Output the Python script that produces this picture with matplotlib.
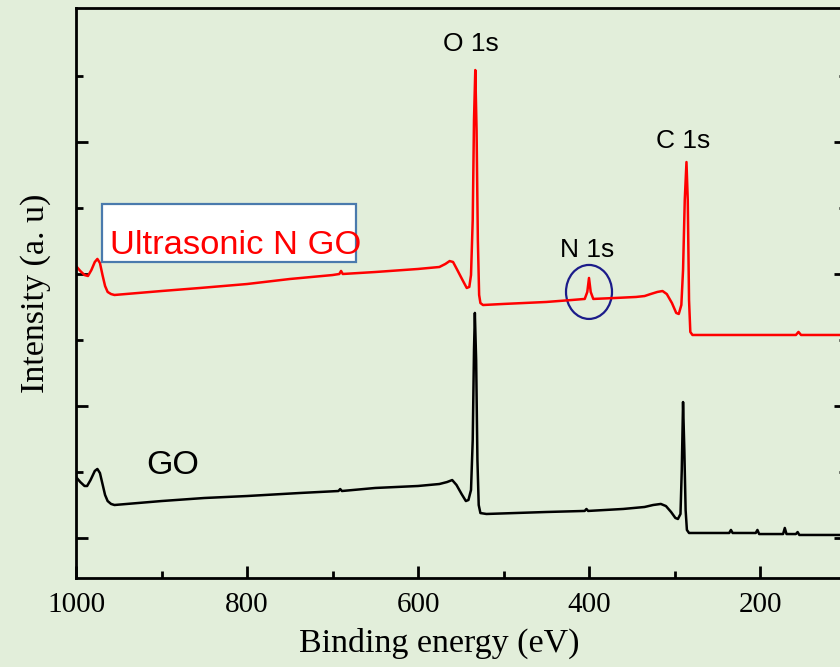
import matplotlib
matplotlib.use("Agg")
import matplotlib.pyplot as plt
from matplotlib.patches import Ellipse, Rectangle
from matplotlib.ticker import FixedLocator

# ---- data (binding energy in eV, intensity in a.u.) ----
red_energy = [1000, 995, 990, 986, 982, 978, 975, 972, 969, 966, 963, 959, 955,
              900, 855, 800, 750, 700, 692, 690, 688, 650, 600, 575, 568, 563, 559,
              554, 548, 543, 540, 538, 536, 534.5, 533, 531.5, 530, 528.5, 527, 524,
              500, 450, 420, 405, 402, 400, 398, 395, 370, 345, 335, 328, 320, 314,
              309, 303, 298, 295, 292, 290, 288, 286, 284.5, 283, 281.5, 279, 250,
              200, 158, 155, 152, 100]
red_intensity = [2.061, 2.023, 1.992, 1.985, 2.030, 2.091, 2.114, 2.083, 1.992, 1.909,
                 1.864, 1.848, 1.841, 1.871, 1.894, 1.924, 1.962, 1.992, 2.000, 2.023,
                 2.000, 2.015, 2.038, 2.053, 2.076, 2.098, 2.091, 2.030, 1.955, 1.894,
                 1.902, 1.992, 2.409, 3.167, 3.545, 3.091, 2.258, 1.841, 1.780, 1.765,
                 1.773, 1.788, 1.803, 1.811, 1.864, 1.970, 1.864, 1.811, 1.818, 1.826,
                 1.833, 1.848, 1.864, 1.871, 1.848, 1.780, 1.705, 1.697, 1.765, 2.030,
                 2.561, 2.848, 2.561, 1.803, 1.561, 1.538, 1.538, 1.538, 1.538, 1.561,
                 1.538, 1.538]

go_energy = [1000, 995, 990, 987, 983, 978, 975, 972, 969, 966, 963, 959, 955,
             900, 850, 800, 738, 693, 691, 689, 650, 600, 575, 566, 560, 555, 549,
             544, 541, 538, 536, 534.5, 533.5, 532, 530.5, 529, 527, 520, 450, 405,
             403, 401, 360, 335, 325, 316, 310, 304, 299, 296, 293, 291.5, 290,
             288.5, 287, 285.5, 283, 260, 236, 234, 232, 205, 203, 201, 173, 171,
             169, 158, 156, 154, 100]
go_intensity = [0.462, 0.424, 0.394, 0.394, 0.439, 0.508, 0.523, 0.492, 0.409, 0.326,
                0.280, 0.258, 0.250, 0.280, 0.303, 0.318, 0.341, 0.356, 0.371, 0.356,
                0.379, 0.394, 0.409, 0.424, 0.439, 0.402, 0.333, 0.280, 0.288, 0.364,
                0.742, 1.424, 1.705, 1.348, 0.591, 0.250, 0.189, 0.182, 0.197, 0.205,
                0.220, 0.205, 0.220, 0.235, 0.250, 0.258, 0.242, 0.197, 0.152, 0.144,
                0.182, 0.515, 1.030, 0.667, 0.212, 0.061, 0.038, 0.038, 0.038, 0.061,
                0.038, 0.038, 0.061, 0.030, 0.030, 0.076, 0.030, 0.030, 0.045, 0.023,
                0.023]

x_major = [1000, 800, 600, 400, 200]
x_minor = [900, 700, 500, 300, 100]
x_tick_labels = ["1000", "800", "600", "400", "200"]
y_major = [0, 1, 2, 3]
y_minor = [0.5, 1.5, 2.5, 3.5]

peak_labels = ["O 1s", "C 1s", "N 1s"]
peak_label_x = [538, 290, 402]
peak_label_y = [3.689, 2.955, 2.129]

bg = "#e2eeda"
serif = ["Liberation Serif", "DejaVu Serif"]
sans = ["Liberation Sans", "DejaVu Sans"]

fig = plt.figure(figsize=(8.4, 6.67), dpi=100, facecolor=bg)
ax = fig.add_axes([76 / 840, 89 / 667, 769.5 / 840, 570 / 667], facecolor=bg)

ax.plot(red_energy, red_intensity, color="#ff0000", lw=1.8, solid_joinstyle="round")
ax.plot(go_energy, go_intensity, color="black", lw=1.8, solid_joinstyle="round")

ax.set_xlim(1000, 100)
ax.set_ylim(-0.303, 4.015)

ax.xaxis.set_major_locator(FixedLocator(x_major))
ax.xaxis.set_minor_locator(FixedLocator(x_minor))
ax.set_xticklabels(x_tick_labels, fontfamily=serif, fontsize=21)
ax.yaxis.set_major_locator(FixedLocator(y_major))
ax.yaxis.set_minor_locator(FixedLocator(y_minor))

ax.tick_params(which="both", direction="in", width=2, top=False, right=True,
               labelleft=False, pad=10)
ax.tick_params(which="major", length=8.6)
ax.tick_params(which="minor", length=5)
for s in ax.spines.values():
    s.set_linewidth(2)

ax.set_xlabel("Binding energy (eV)", fontfamily=serif, fontsize=24.5)
ax.xaxis.set_label_coords((439 - 76) / 769.5, -0.088, transform=ax.transAxes)
ax.xaxis.label.set_va("top")
ax.set_ylabel("Intensity (a. u)", fontfamily=serif, fontsize=24.5, labelpad=18)

for t, x, y in zip(peak_labels, peak_label_x, peak_label_y):
    ax.text(x, y, t, fontfamily=sans, fontsize=19, ha="center", va="baseline")

ax.add_patch(Ellipse((400, 1.864), 53.8, 0.409, fill=False, edgecolor="#1c1c8a", lw=1.6))
ax.add_patch(Rectangle((969.6, 2.091), 672.5 - 969.6, 2.530 - 2.091, facecolor="white",
                       edgecolor="#4a7aad", lw=1.6, zorder=3))
ax.text(960, 2.152, "Ultrasonic N GO", color="#ff0000", fontfamily=sans, fontsize=24.8,
        ha="left", va="baseline", zorder=4)
ax.text(918, 0.485, "GO", color="black", fontfamily=sans, fontsize=24.5,
        ha="left", va="baseline")

fig.savefig("out.png", dpi=100, facecolor=bg)
